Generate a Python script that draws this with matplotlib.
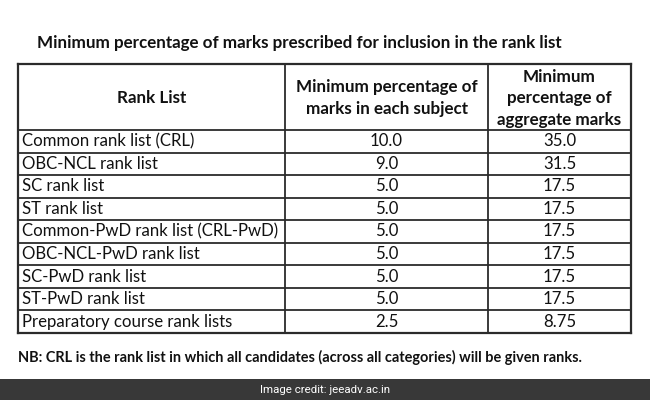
import matplotlib
matplotlib.use("Agg")
import matplotlib.pyplot as plt
from matplotlib.patches import Rectangle

title = "Minimum percentage of marks prescribed for inclusion in the rank list"
headers = ["Rank List", "Minimum percentage of\nmarks in each subject",
           "Minimum\npercentage of\naggregate marks"]
rank_lists = ["Common rank list (CRL)", "OBC-NCL rank list", "SC rank list",
              "ST rank list", "Common-PwD rank list (CRL-PwD)",
              "OBC-NCL-PwD rank list", "SC-PwD rank list", "ST-PwD rank list",
              "Preparatory course rank lists"]
min_subject = ["10.0", "9.0", "5.0", "5.0", "5.0", "5.0", "5.0", "5.0", "2.5"]
min_aggregate = ["35.0", "31.5", "17.5", "17.5", "17.5", "17.5", "17.5", "17.5", "8.75"]
note = "NB: CRL is the rank list in which all candidates (across all categories) will be given ranks."
credit = "Image credit: jeeadv.ac.in"

W, H = 650, 400
fig = plt.figure(figsize=(6.5, 4.0), dpi=100)
ax = fig.add_axes([0, 0, 1, 1])
ax.set_xlim(0, W)
ax.set_ylim(H, 0)
ax.axis("off")

FONT = "Lato"
px = 72 / 100  # px -> pt

col_x = [18, 285, 488, 631]
top, head_bot, bottom = 64, 130, 333
n = len(rank_lists)
row_h = (bottom - head_bot) / n
line_c = "#2b2b2b"
lw = 1.3
txt_c = "#111111"

# title
ax.text(37, 43, title, fontsize=17 * px, fontweight="bold", family=FONT,
        ha="left", va="center", color=txt_c)

# grid lines
ax.plot([col_x[0], col_x[-1]], [top, top], color=line_c, lw=lw + 0.3)
ax.plot([col_x[0], col_x[-1]], [bottom, bottom], color=line_c, lw=lw + 0.3)
for x in col_x:
    ax.plot([x, x], [top, bottom], color=line_c,
            lw=lw + (0.3 if x in (col_x[0], col_x[-1]) else 0))
for i in range(n):
    y = head_bot + i * row_h
    ax.plot([col_x[0], col_x[-1]], [y, y], color=line_c, lw=lw)

# headers
hy = (top + head_bot) / 2
offsets = [1, 1, 1.5]
for j, h in enumerate(headers):
    cx = (col_x[j] + col_x[j + 1]) / 2
    ax.text(cx, hy + offsets[j], h, fontsize=17 * px, fontweight="bold",
            family=FONT, ha="center", va="center", color=txt_c,
            linespacing=1.45)

# rows
for i in range(n):
    cy = head_bot + (i + 0.5) * row_h
    ax.text(col_x[0] + 4, cy, rank_lists[i], fontsize=16.7 * px, family=FONT,
            ha="left", va="center", color=txt_c)
    ax.text((col_x[1] + col_x[2]) / 2, cy, min_subject[i], fontsize=16.7 * px,
            family=FONT, ha="center", va="center", color=txt_c)
    ax.text((col_x[2] + col_x[3]) / 2, cy, min_aggregate[i], fontsize=16.7 * px,
            family=FONT, ha="center", va="center", color=txt_c)

# note
ax.text(18, 357, note, fontsize=14.5 * px, fontweight="bold", family=FONT,
        ha="left", va="center", color=txt_c)

# credit bar
ax.add_patch(Rectangle((0, 379), W, H - 379, facecolor="#383838", edgecolor="none"))
ax.text(W / 2, 390, credit, fontsize=11.5 * px, family="Roboto",
        ha="center", va="center", color="white")

fig.savefig("out.png", dpi=100, facecolor="white")
